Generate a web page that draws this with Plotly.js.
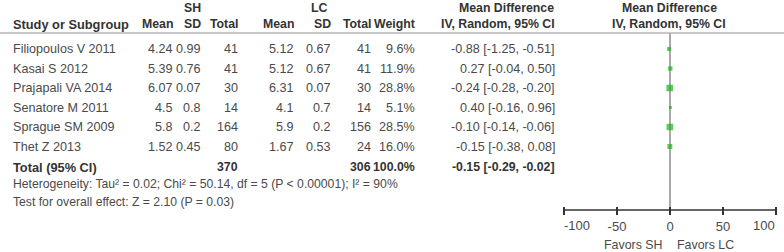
<!DOCTYPE html>
<html>
<head>
<meta charset="utf-8">
<script src="https://cdn.plot.ly/plotly-3.0.1.min.js"></script>
<style>html,body{margin:0;padding:0;background:#fff;}#chart{width:784px;height:252px;}</style>
</head>
<body>
<div id="chart"></div>
<script>
// ---- data ----
const studies  = ["Filiopoulos V 2011","Kasai S 2012","Prajapali VA 2014","Senatore M 2011","Sprague SM 2009","Thet Z 2013"];
const shMean   = [4.24, 5.39, 6.07, 4.5, 5.8, 1.52];
const shSD     = [0.99, 0.76, 0.07, 0.8, 0.2, 0.45];
const shTotal  = [41, 41, 30, 14, 164, 80];
const lcMean   = [5.12, 5.12, 6.31, 4.1, 5.9, 1.67];
const lcSD     = [0.67, 0.67, 0.07, 0.7, 0.2, 0.53];
const lcTotal  = [41, 41, 30, 14, 156, 24];
const weight   = [9.6, 11.9, 28.8, 5.1, 28.5, 16.0];
const md       = [-0.88, 0.27, -0.24, 0.40, -0.10, -0.15];
const ciLow    = [-1.25, -0.04, -0.28, -0.16, -0.14, -0.38];
const ciHigh   = [-0.51, 0.50, -0.20, 0.96, -0.06, 0.08];
const total    = {sh: 370, lc: 306, weight: 100.0, md: -0.15, lo: -0.29, hi: -0.02};
const hetText  = "Heterogeneity: Tau² = 0.02; Chi² = 50.14, df = 5 (P < 0.00001); I² = 90%";
const testText = "Test for overall effect: Z = 2.10 (P = 0.03)";
const xTicks   = [-100, -50, 0, 50, 100];
const xTickText = xTicks.map(String);
const favLeft  = "Favors SH", favRight = "Favors LC";

// ---- layout helpers ----
const W = 784, H = 252;
const rowY = i => 49 + i * 19.5;
const totalY = 167, hetY = 184, testY = 202, hdr1Y = 8, hdr2Y = 24, lineY = 33, axisY = 210, tickHalf = 4;
const col = {name: 11, shMean: 175, shSD: 203, shTotal: 240, lcMean: 296, lcSD: 333, lcTotal: 373, weight: 417, md: 557};
const FONT = "Liberation Sans, Arial, sans-serif";
const txtColor = "#4a4a4a", hdrColor = "#333";
const DS = 12.6, HS = 12.3;

const ann = [];
function t(x, y, text, anchor, bold, size) {
  ann.push({xref: 'paper', yref: 'y', x: x / W, y: y, text: bold ? '<b>' + text + '</b>' : text,
    xanchor: anchor, yanchor: 'middle', showarrow: false,
    font: {family: FONT, size: size || (bold ? HS : DS), color: bold ? hdrColor : txtColor}});
}
// headers
t(192, hdr1Y, "SH", 'center', true);
t(319, hdr1Y, "LC", 'center', true);
t(506, hdr1Y, "Mean Difference", 'center', true);
t(669, hdr1Y, "Mean Difference", 'center', true);
t(col.name, hdr2Y, "Study or Subgroup", 'left', true, 12.8);
t(col.shMean, hdr2Y, "Mean", 'right', true);
t(col.shSD, hdr2Y, "SD", 'right', true);
t(col.shTotal, hdr2Y, "Total", 'right', true);
t(col.lcMean, hdr2Y, "Mean", 'right', true);
t(col.lcSD, hdr2Y, "SD", 'right', true);
t(col.lcTotal, hdr2Y, "Total", 'right', true);
t(col.weight, hdr2Y, "Weight", 'right', true);
t(col.md, hdr2Y, "IV, Random, 95% CI", 'right', true);
t(669, hdr2Y, "IV, Random, 95% CI", 'center', true);

const f2 = v => v.toFixed(2);
studies.forEach((s, i) => {
  const y = rowY(i);
  t(col.name, y, s, 'left');
  t(col.shMean, y, String(shMean[i]), 'right');
  t(col.shSD, y, String(shSD[i]), 'right');
  t(col.shTotal, y, String(shTotal[i]), 'right');
  t(col.lcMean, y, String(lcMean[i]), 'right');
  t(col.lcSD, y, String(lcSD[i]), 'right');
  t(col.lcTotal, y, String(lcTotal[i]), 'right');
  t(col.weight, y, weight[i].toFixed(1) + '%', 'right');
  t(col.md, y, f2(md[i]) + ' [' + f2(ciLow[i]) + ', ' + f2(ciHigh[i]) + ']', 'right');
});
t(col.name, totalY, "Total (95% CI)", 'left', true, 12.8);
t(col.shTotal, totalY, String(total.sh), 'right', true);
t(col.lcTotal, totalY, String(total.lc), 'right', true);
t(col.weight, totalY, total.weight.toFixed(1) + '%', 'right', true);
t(col.md, totalY, f2(total.md) + ' [' + f2(total.lo) + ', ' + f2(total.hi) + ']', 'right', true);
t(col.name, hetY, hetText, 'left', false, 12.2);
t(col.name, testY, testText, 'left', false, 12.2);

// favors labels under the axis
const axFont = {family: FONT, size: 13, color: txtColor};
ann.push({xref: 'x', yref: 'y', x: 0, y: 245, text: favLeft, xanchor: 'right', xshift: -5, showarrow: false,
  font: {family: FONT, size: 12.4, color: txtColor}});
ann.push({xref: 'x', yref: 'y', x: 0, y: 245, text: favRight, xanchor: 'left', xshift: 5, showarrow: false,
  font: {family: FONT, size: 12.4, color: txtColor}});
// end tick labels are drawn inward of their ticks, as in the reference
ann.push({xref: 'x', yref: 'y', x: xTicks[0], y: axisY + 15, text: xTickText[0], xanchor: 'left', xshift: -2,
  showarrow: false, font: axFont});
ann.push({xref: 'x', yref: 'y', x: xTicks[xTicks.length - 1], y: axisY + 15, text: xTickText[xTicks.length - 1],
  xanchor: 'right', xshift: 1, showarrow: false, font: axFont});

const rows = studies.map((s, i) => rowY(i));
const traces = [{
  type: 'scatter', mode: 'markers', xaxis: 'x', yaxis: 'y',
  x: md, y: rows,
  marker: {symbol: 'square', color: '#1fb31f', size: weight.map(w => 1.25 * Math.sqrt(w)), line: {width: 0}},
  error_x: {type: 'data', symmetric: false,
    array: md.map((m, i) => ciHigh[i] - m), arrayminus: md.map((m, i) => m - ciLow[i]),
    color: '#1fb31f', thickness: 1, width: 0},
  hoverinfo: 'skip', showlegend: false
}];

const pxPerUnit = (776 - 564) / 200;
const rng = [-103, 103];
const dom = [(564 - 3 * pxPerUnit) / W, (776 + 3 * pxPerUnit) / W];
const layout = {
  width: W, height: H, margin: {l: 0, r: 0, t: 0, b: 0}, paper_bgcolor: '#fff', plot_bgcolor: 'rgba(0,0,0,0)',
  showlegend: false,
  xaxis: {domain: dom, range: rng, anchor: 'free', position: 1 - (axisY - tickHalf) / H,
    tickmode: 'array', tickvals: xTicks,
    ticktext: xTickText.map((s, i) => (i === 0 || i === xTicks.length - 1) ? '' : s),
    ticks: 'outside', ticklen: 2 * tickHalf, tickwidth: 1.5, tickcolor: '#333', showline: false,
    showgrid: false, zeroline: false, fixedrange: true, tickfont: axFont},
  yaxis: {domain: [0, 1], range: [H, 0], visible: false, fixedrange: true},
  shapes: [
    {type: 'line', xref: 'paper', yref: 'y', x0: 0, x1: 1, y0: lineY, y1: lineY, line: {color: '#b5b5b5', width: 1.5}},
    {type: 'line', xref: 'x', yref: 'y', x0: 0, x1: 0, y0: lineY, y1: axisY, line: {color: '#8c8c8c', width: 1.5}, layer: 'below'},
    {type: 'line', xref: 'x', yref: 'y', x0: xTicks[0], x1: xTicks[xTicks.length - 1], y0: axisY, y1: axisY, line: {color: '#333', width: 1.5}}
  ],
  annotations: ann
};
Plotly.newPlot('chart', traces, layout, {staticPlot: true, displayModeBar: false});
</script>
</body>
</html>
